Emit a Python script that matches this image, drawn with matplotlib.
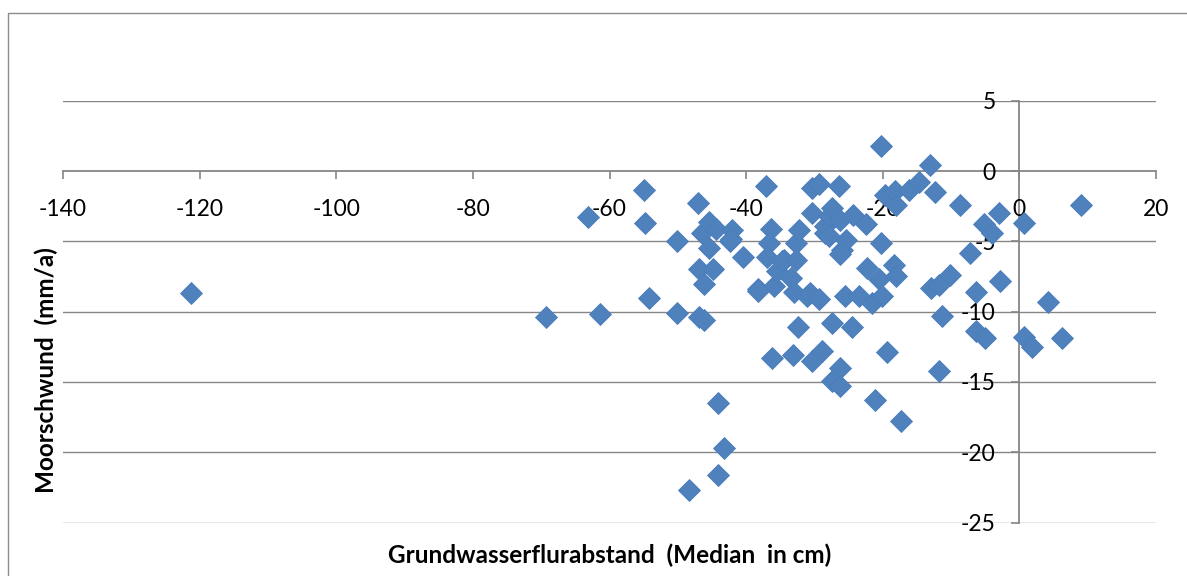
import matplotlib
matplotlib.use("Agg")
import matplotlib.pyplot as plt
from matplotlib.patches import Rectangle

plt.rcParams['font.family'] = ['Lato', 'DejaVu Sans']

# Grundwasserflurabstand (Median in cm)
gw = [-121.3, -69.3, -63.1, -61.4, -55.0, -54.8, -54.2, -50.1, -50.1, -48.3,
      -47.1, -46.9, -46.9, -46.1, -46.1, -46.4, -45.4, -45.4, -44.9, -44.4,
      -44.1, -44.1, -43.3, -42.0, -42.3, -40.5, -38.3, -37.1, -36.4, -36.6,
      -36.9, -36.2, -35.9, -35.5, -34.5, -34.7, -33.4, -32.7, -32.7, -32.3,
      -33.0, -32.4, -33.2, -31.1, -30.6, -30.3, -30.4, -30.3, -29.3, -29.3,
      -28.9, -28.4, -28.4, -27.9, -27.4, -27.4, -27.4, -26.4, -26.3, -26.2,
      -26.2, -25.9, -25.4, -25.5, -24.5, -24.4, -23.5, -22.4, -22.3, -21.6,
      -21.1, -20.2, -20.3, -20.6, -20.1, -19.6, -19.4, -18.2, -18.0, -18.4,
      -18.1, -17.3, -16.2, -14.7, -13.1, -12.3, -13.0, -11.8, -11.3, -11.7,
      -10.1, -8.7, -7.3, -6.3, -6.4, -5.2, -5.0, -4.0, -3.0, -2.8,
      0.7, 0.7, 1.8, 4.2, 6.3, 9.0, -27.9, -42.2, -38.2, -26.2]

# Moorschwund (mm/a)
ms = [-8.7, -10.4, -3.3, -10.2, -1.35, -3.7, -9.0, -5.0, -10.1, -22.7,
      -2.3, -7.0, -10.4, -10.6, -8.0, -4.4, -3.6, -5.5, -7.0, -4.1,
      -16.5, -21.6, -19.7, -4.2, -5.0, -6.1, -8.4, -1.1, -4.1, -5.1,
      -6.1, -13.3, -8.2, -7.1, -6.3, -6.4, -7.6, -6.3, -5.1, -4.2,
      -8.6, -11.1, -13.05, -8.9, -8.7, -13.5, -1.2, -3.0, -0.9, -9.1,
      -12.8, -3.9, -4.4, -3.2, -2.6, -10.8, -14.9, -1.1, -3.5, -14.0,
      -15.3, -5.6, -4.9, -8.9, -11.1, -3.1, -8.9, -3.8, -6.9, -9.4,
      -16.3, 1.8, -5.1, -7.7, -8.9, -1.7, -12.9, -1.4, -2.4, -6.7,
      -7.5, -17.8, -1.35, -0.8, 0.4, -1.5, -8.3, -8.1, -10.3, -14.2,
      -7.4, -2.4, -5.8, -8.6, -11.4, -3.8, -11.9, -4.4, -3.0, -7.85,
      -3.7, -11.8, -12.5, -9.3, -11.9, -2.4, -4.6, -4.8, -8.5, -5.9]

xticks = [-140, -120, -100, -80, -60, -40, -20, 0, 20]
yticks = [5, 0, -5, -10, -15, -20, -25]

W, H = 1187, 576
fig = plt.figure(figsize=(W / 100, H / 100), dpi=100)
fig.patches.append(Rectangle((8 / W, -0.1), 1.2, 1 - 13 / H + 0.1, transform=fig.transFigure,
                             fill=False, edgecolor='#8c8c8c', linewidth=1.0))

ax = fig.add_axes([63 / W, 1 - 522.6 / H, (1156 - 63) / W, (522.6 - 100.7) / H])
ax.set_xlim(-140, 20)
ax.set_ylim(-25, 5)

grey = '#868686'
for y in yticks:
    if y != 0:
        ax.axhline(y, color=grey, lw=1.0, zorder=1)

ax.spines['top'].set_visible(False)
ax.spines['right'].set_visible(False)
ax.spines['left'].set_position(('data', 0))
ax.spines['bottom'].set_position(('data', 0))
for s in ('left', 'bottom'):
    ax.spines[s].set_color(grey)
    ax.spines[s].set_linewidth(1.3)
    ax.spines[s].set_zorder(1)

ax.set_xticks(xticks)
ax.set_yticks(yticks)
ax.set_xticklabels([str(v) for v in xticks])
ax.set_yticklabels([str(v) for v in yticks])
ax.tick_params(axis='x', direction='out', length=6, width=1.2, color=grey, pad=14, labelsize=16.5)
ax.tick_params(axis='y', direction='out', length=6, width=1.2, color=grey, pad=11, labelsize=16.5)

ax.plot(gw, ms, linestyle='none', marker='D', markersize=11, markerfacecolor='#4F81BD',
        markeredgecolor='#4A7EBB', markeredgewidth=0.6, zorder=3, clip_on=False)

fig.text(610 / W, 1 - 555 / H, 'Grundwasserflurabstand  (Median  in cm)', ha='center', va='center',
         fontsize=17.5, fontweight='bold')
fig.text(46 / W, 1 - 370 / H, 'Moorschwund  (mm/a)', ha='center', va='center', rotation=90,
         fontsize=17.5, fontweight='bold')

fig.savefig('out.png', dpi=100)
